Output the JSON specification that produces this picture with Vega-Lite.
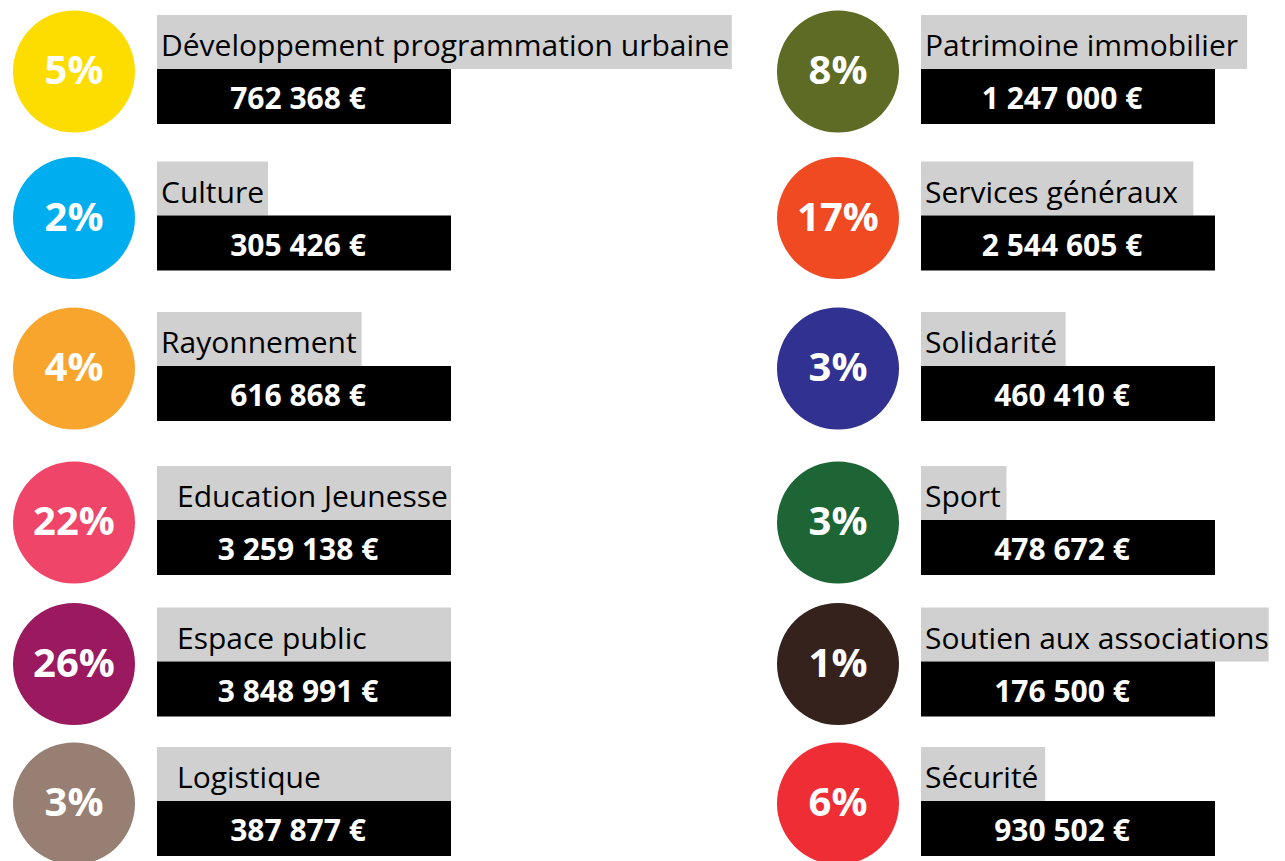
{
  "$schema": "https://vega.github.io/schema/vega-lite/v6.json",
  "width": 1285,
  "height": 861,
  "autosize": "none",
  "padding": 0,
  "background": "white",
  "config": {
    "view": {"stroke": null},
    "locale": {"number": {"decimal": ",", "thousands": " ", "grouping": [3], "currency": ["", " €"]}}
  },
  "data": {
    "values": [
      {"col": 0, "row": 0, "label": "Développement programmation urbaine", "pct": 5, "amount": 762368},
      {"col": 0, "row": 1, "label": "Culture", "pct": 2, "amount": 305426},
      {"col": 0, "row": 2, "label": "Rayonnement", "pct": 4, "amount": 616868},
      {"col": 0, "row": 3, "label": "Education Jeunesse", "pct": 22, "amount": 3259138},
      {"col": 0, "row": 4, "label": "Espace public", "pct": 26, "amount": 3848991},
      {"col": 0, "row": 5, "label": "Logistique", "pct": 3, "amount": 387877},
      {"col": 1, "row": 0, "label": "Patrimoine immobilier", "pct": 8, "amount": 1247000},
      {"col": 1, "row": 1, "label": "Services généraux", "pct": 17, "amount": 2544605},
      {"col": 1, "row": 2, "label": "Solidarité", "pct": 3, "amount": 460410},
      {"col": 1, "row": 3, "label": "Sport", "pct": 3, "amount": 478672},
      {"col": 1, "row": 4, "label": "Soutien aux associations", "pct": 1, "amount": 176500},
      {"col": 1, "row": 5, "label": "Sécurité", "pct": 6, "amount": 930502}
    ]
  },
  "transform": [
    {"calculate": "datum.pct + '%'", "as": "pctLabel"},
    {"calculate": "datum.col == 0 && datum.row >= 3", "as": "indented"},
    {"calculate": "length(datum.label)", "as": "nAll"},
    {"calculate": "datum.nAll - length(replace(datum.label, /[iljt ]/g, ''))", "as": "nNarrow"},
    {"calculate": "datum.nAll - length(replace(datum.label, /[rfsc]/g, ''))", "as": "nMid"},
    {"calculate": "datum.nAll - length(replace(datum.label, /[mw]/g, ''))", "as": "nWide"},
    {"calculate": "30 * (0.58 * datum.nAll - 0.31 * datum.nNarrow - 0.14 * datum.nMid + 0.35 * datum.nWide)", "as": "textW"},
    {"calculate": "datum.col + (datum.indented ? 294 : datum.textW + 12) / 764", "as": "grayEnd"},
    {"calculate": "datum.col + (datum.indented ? 16 : 0) / 764", "as": "labelX"}
  ],
  "encoding": {
    "x": {"field": "col", "type": "quantitative", "scale": {"domain": [0, 1], "range": [157, 921]}, "axis": null},
    "y": {"field": "row", "type": "quantitative", "scale": {"domain": [0, 1, 2, 3, 4, 5], "range": [69, 215.5, 366, 520, 661.5, 801]}, "axis": null}
  },
  "layer": [
    {
      "mark": {"type": "circle", "size": 14884, "opacity": 1, "xOffset": -83, "yOffset": 2.5},
      "encoding": {
        "color": {
          "field": "label",
          "type": "nominal",
          "legend": null,
          "scale": {
            "domain": ["Développement programmation urbaine", "Culture", "Rayonnement", "Education Jeunesse", "Espace public", "Logistique", "Patrimoine immobilier", "Services généraux", "Solidarité", "Sport", "Soutien aux associations", "Sécurité"],
            "range": ["#FDDC00", "#00AEEF", "#F8A52E", "#EF4569", "#9B195F", "#978073", "#5E6B24", "#F04A22", "#313192", "#1E6536", "#35221D", "#EE2D35"]
          }
        }
      }
    },
    {
      "mark": {"type": "rect", "color": "#D0D0D0", "yOffset": -54},
      "encoding": {"x2": {"field": "grayEnd"}, "y2": {"field": "row"}}
    },
    {
      "mark": {"type": "rect", "color": "#000000", "x2Offset": 294, "y2Offset": 55},
      "encoding": {"x2": {"field": "col"}, "y2": {"field": "row"}}
    },
    {
      "mark": {"type": "text", "align": "left", "baseline": "alphabetic", "dx": 4, "dy": -13, "font": "Open Sans", "fontSize": 30, "color": "#000000"},
      "encoding": {"x": {"field": "labelX", "type": "quantitative"}, "text": {"field": "label"}}
    },
    {
      "mark": {"type": "text", "align": "center", "baseline": "alphabetic", "dx": 141, "dy": 40, "font": "Open Sans", "fontWeight": "bold", "fontSize": 30, "color": "#FFFFFF"},
      "encoding": {"text": {"field": "amount", "type": "quantitative", "format": "$,d"}}
    },
    {
      "mark": {"type": "text", "align": "center", "baseline": "alphabetic", "dx": -83, "dy": 15, "font": "Open Sans", "fontWeight": "bold", "fontSize": 40, "color": "#FFFFFF"},
      "encoding": {"text": {"field": "pctLabel"}}
    }
  ]
}
